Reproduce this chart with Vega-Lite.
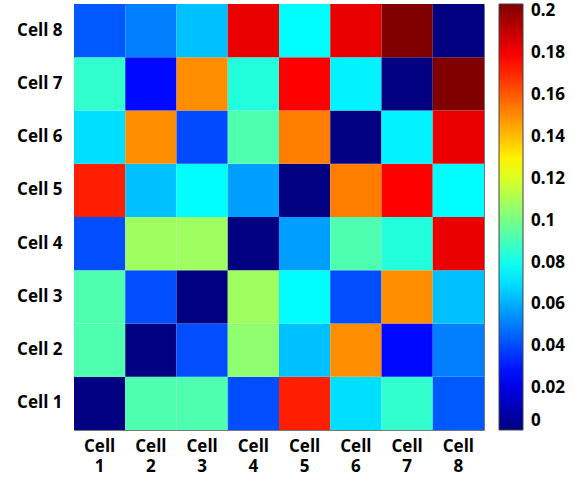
{
  "$schema": "https://vega.github.io/schema/vega-lite/v6.json",
  "width": 410,
  "height": 426,
  "autosize": {"type": "none"},
  "padding": {"left": 74, "top": 4, "right": 90, "bottom": 50},
  "background": "white",
  "data": {"values": [
    {"row": "Cell 1", "col": "Cell 1", "value": 0},
    {"row": "Cell 1", "col": "Cell 2", "value": 0.092},
    {"row": "Cell 1", "col": "Cell 3", "value": 0.092},
    {"row": "Cell 1", "col": "Cell 4", "value": 0.041},
    {"row": "Cell 1", "col": "Cell 5", "value": 0.172},
    {"row": "Cell 1", "col": "Cell 6", "value": 0.070},
    {"row": "Cell 1", "col": "Cell 7", "value": 0.086},
    {"row": "Cell 1", "col": "Cell 8", "value": 0.043},
    {"row": "Cell 2", "col": "Cell 1", "value": 0.092},
    {"row": "Cell 2", "col": "Cell 2", "value": 0},
    {"row": "Cell 2", "col": "Cell 3", "value": 0.041},
    {"row": "Cell 2", "col": "Cell 4", "value": 0.105},
    {"row": "Cell 2", "col": "Cell 5", "value": 0.064},
    {"row": "Cell 2", "col": "Cell 6", "value": 0.150},
    {"row": "Cell 2", "col": "Cell 7", "value": 0.027},
    {"row": "Cell 2", "col": "Cell 8", "value": 0.051},
    {"row": "Cell 3", "col": "Cell 1", "value": 0.092},
    {"row": "Cell 3", "col": "Cell 2", "value": 0.041},
    {"row": "Cell 3", "col": "Cell 3", "value": 0},
    {"row": "Cell 3", "col": "Cell 4", "value": 0.108},
    {"row": "Cell 3", "col": "Cell 5", "value": 0.076},
    {"row": "Cell 3", "col": "Cell 6", "value": 0.041},
    {"row": "Cell 3", "col": "Cell 7", "value": 0.150},
    {"row": "Cell 3", "col": "Cell 8", "value": 0.064},
    {"row": "Cell 4", "col": "Cell 1", "value": 0.041},
    {"row": "Cell 4", "col": "Cell 2", "value": 0.108},
    {"row": "Cell 4", "col": "Cell 3", "value": 0.108},
    {"row": "Cell 4", "col": "Cell 4", "value": 0},
    {"row": "Cell 4", "col": "Cell 5", "value": 0.057},
    {"row": "Cell 4", "col": "Cell 6", "value": 0.092},
    {"row": "Cell 4", "col": "Cell 7", "value": 0.083},
    {"row": "Cell 4", "col": "Cell 8", "value": 0.182},
    {"row": "Cell 5", "col": "Cell 1", "value": 0.172},
    {"row": "Cell 5", "col": "Cell 2", "value": 0.064},
    {"row": "Cell 5", "col": "Cell 3", "value": 0.076},
    {"row": "Cell 5", "col": "Cell 4", "value": 0.057},
    {"row": "Cell 5", "col": "Cell 5", "value": 0},
    {"row": "Cell 5", "col": "Cell 6", "value": 0.153},
    {"row": "Cell 5", "col": "Cell 7", "value": 0.178},
    {"row": "Cell 5", "col": "Cell 8", "value": 0.076},
    {"row": "Cell 6", "col": "Cell 1", "value": 0.070},
    {"row": "Cell 6", "col": "Cell 2", "value": 0.150},
    {"row": "Cell 6", "col": "Cell 3", "value": 0.040},
    {"row": "Cell 6", "col": "Cell 4", "value": 0.092},
    {"row": "Cell 6", "col": "Cell 5", "value": 0.153},
    {"row": "Cell 6", "col": "Cell 6", "value": 0},
    {"row": "Cell 6", "col": "Cell 7", "value": 0.074},
    {"row": "Cell 6", "col": "Cell 8", "value": 0.182},
    {"row": "Cell 7", "col": "Cell 1", "value": 0.086},
    {"row": "Cell 7", "col": "Cell 2", "value": 0.027},
    {"row": "Cell 7", "col": "Cell 3", "value": 0.150},
    {"row": "Cell 7", "col": "Cell 4", "value": 0.083},
    {"row": "Cell 7", "col": "Cell 5", "value": 0.178},
    {"row": "Cell 7", "col": "Cell 6", "value": 0.074},
    {"row": "Cell 7", "col": "Cell 7", "value": 0},
    {"row": "Cell 7", "col": "Cell 8", "value": 0.2035},
    {"row": "Cell 8", "col": "Cell 1", "value": 0.043},
    {"row": "Cell 8", "col": "Cell 2", "value": 0.051},
    {"row": "Cell 8", "col": "Cell 3", "value": 0.064},
    {"row": "Cell 8", "col": "Cell 4", "value": 0.182},
    {"row": "Cell 8", "col": "Cell 5", "value": 0.076},
    {"row": "Cell 8", "col": "Cell 6", "value": 0.182},
    {"row": "Cell 8", "col": "Cell 7", "value": 0.2035},
    {"row": "Cell 8", "col": "Cell 8", "value": 0}
  ]},
  "mark": {"type": "rect"},
  "encoding": {
    "x": {
      "field": "col", "type": "nominal", "sort": "ascending",
      "scale": {"paddingInner": 0, "paddingOuter": 0},
      "axis": {
        "title": null, "labelAngle": 0, "ticks": false, "domain": false,
        "labelExpr": "split(datum.label, ' ')",
        "labelFont": "Open Sans", "labelFontWeight": "bold", "labelFontSize": 17,
        "labelColor": "#000", "labelPadding": 8, "labelLineHeight": 20
      }
    },
    "y": {
      "field": "row", "type": "nominal", "sort": "descending",
      "scale": {"paddingInner": 0, "paddingOuter": 0},
      "axis": {
        "title": null, "ticks": false, "domain": false,
        "labelFont": "Open Sans", "labelFontWeight": "bold", "labelFontSize": 17,
        "labelColor": "#000", "labelPadding": 12
      }
    },
    "color": {
      "field": "value", "type": "quantitative",
      "scale": {
        "type": "linear",
        "domain": [0, 0.02544, 0.07631, 0.12719, 0.17806, 0.2035],
        "range": ["#000080", "#0000FF", "#00FFFF", "#FFFF00", "#FF0000", "#800000"],
        "interpolate": "rgb"
      },
      "legend": {
        "title": null,
        "orient": "right",
        "offset": 15,
        "padding": 0,
        "gradientLength": 426,
        "gradientThickness": 24,
        "gradientStrokeColor": "#444",
        "gradientStrokeWidth": 1,
        "values": [0, 0.02, 0.04, 0.06, 0.08, 0.1, 0.12, 0.14, 0.16, 0.18, 0.2],
        "format": "~g",
        "labelFont": "Open Sans", "labelFontWeight": "bold", "labelFontSize": 17,
        "labelColor": "#000", "labelOffset": 8, "labelOverlap": false
      }
    }
  },
  "config": {
    "view": {"stroke": "#777", "strokeWidth": 1}
  }
}
